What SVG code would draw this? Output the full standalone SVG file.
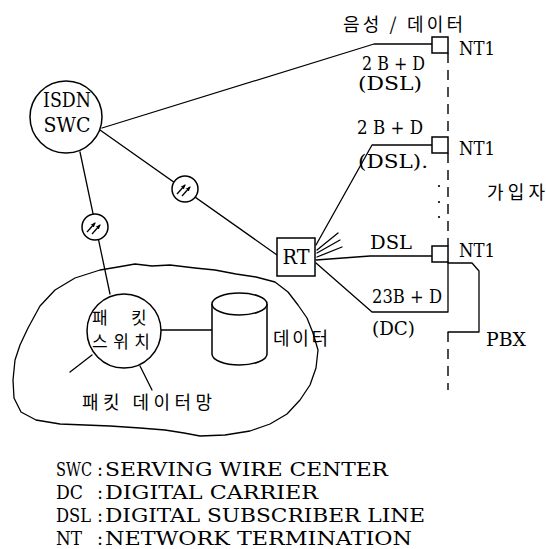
<svg xmlns="http://www.w3.org/2000/svg" width="546" height="549" viewBox="0 0 546 549">
<defs>
<style>
.ln{fill:none;stroke:#000;stroke-width:1.3;stroke-linejoin:round;stroke-linecap:round}
.nd{fill:#fff;stroke:#000;stroke-width:1.5}
.dash{fill:none;stroke:#000;stroke-width:1.4;stroke-dasharray:10 7}
.sf{font-family:"DejaVu Serif","Liberation Serif","Noto Serif",serif}
.kr{font-family:"Noto Sans CJK KR","Noto Sans",sans-serif}
</style>
<marker id="ah" viewBox="0 0 10 10" refX="8" refY="5" markerWidth="4" markerHeight="4" orient="auto">
<path d="M0,1 L10,5 L0,9 Z" fill="#000"/>
</marker>
<g id="arrows">
<line x1="-8" y1="5" x2="0" y2="-4" stroke="#000" stroke-width="1.3" marker-end="url(#ah)"/>
<line x1="-3" y1="7" x2="5" y2="-2" stroke="#000" stroke-width="1.3" marker-end="url(#ah)"/>
</g>
</defs>
<rect width="546" height="549" fill="#fff"/>

<g id="cloud">
<path class="ln" stroke-width="1.1" d="M20,345 L28,328 L40,306 L55,290 L75,278 L100,270 L118,267 L135,264 L152,266 L170,265 L195,268 L215,270 L236,274 L256,277 L275,282 L288,292 L298,305 L307,318 L313,333 L318,350 L316,368 L310,385 L300,400 L287,414 L270,424 L250,431 L225,435 L200,436 L184,433 L165,430 L140,428 L110,426 L85,425 L60,424 L36,420 L21,412 L14,398 L13,380 L15,360 Z"/>
</g>

<g id="connectors">
<path class="ln" d="M102,128 L374,44 L432,44"/>
<path class="ln" d="M100,130 L277,255"/>
<path class="ln" d="M80,152 L110,294"/>
<path class="ln" d="M316,245 L372,145 L432,145"/>
<path class="ln" d="M317,250 L338,233 M317,253 L340,240 M317,257 L342,247"/>
<path class="ln" d="M316,260 L370,256 L432,256"/>
<path class="ln" d="M316,263 L372,312 L448,312 L448,262"/>
<path class="ln" d="M448,263 L472,263 L479,271 L479,332 L448,332"/>
<path class="ln" d="M161,330 L212,330"/>
<path class="ln" d="M92,355 L70,372 M140,366 L152,390"/>
<path class="dash" d="M448,53 L448,137 M448,153 L448,246 M448,332 L448,390"/>
<g fill="#000">
<circle cx="439" cy="186" r="1.1"/>
<circle cx="439" cy="202" r="1.1"/>
<circle cx="439" cy="217" r="1.1"/>
</g>
</g>

<g id="isdn-swc">
<circle class="nd" cx="66" cy="117" r="36"/>
<text class="sf" x="67" y="107" font-size="20" text-anchor="middle" textLength="48" lengthAdjust="spacingAndGlyphs">ISDN</text>
<text class="sf" x="67" y="132" font-size="20" text-anchor="middle" textLength="47" lengthAdjust="spacingAndGlyphs">SWC</text>
</g>

<g id="mux1">
<circle class="nd" cx="185" cy="189" r="13"/>
<use href="#arrows" x="185" y="189"/>
</g>
<g id="mux2">
<circle class="nd" cx="95" cy="227" r="13"/>
<use href="#arrows" x="95" y="227"/>
</g>

<g id="rt">
<rect class="nd" x="277" y="238" width="38" height="38"/>
<text class="sf" x="296" y="264" font-size="20" text-anchor="middle" textLength="27" lengthAdjust="spacingAndGlyphs">RT</text>
</g>

<g id="nt1-a">
<rect class="nd" x="432" y="37" width="16" height="16"/>
<text class="sf" x="459" y="55" font-size="19" textLength="36" lengthAdjust="spacingAndGlyphs">NT1</text>
</g>
<g id="nt1-b">
<rect class="nd" x="432" y="137" width="16" height="16"/>
<text class="sf" x="459" y="155" font-size="19" textLength="36" lengthAdjust="spacingAndGlyphs">NT1</text>
</g>
<g id="nt1-c">
<rect class="nd" x="432" y="246" width="16" height="16"/>
<text class="sf" x="459" y="257" font-size="19" textLength="36" lengthAdjust="spacingAndGlyphs">NT1</text>
</g>

<g id="packet-switch">
<circle class="nd" cx="124" cy="331" r="37"/>
<text class="kr" x="92" y="324" font-size="17">패</text>
<text class="kr" x="131" y="324" font-size="17">킷</text>
<text class="kr" x="92" y="348" font-size="17" textLength="58" lengthAdjust="spacing">스위치</text>
</g>

<g id="data-store">
<path class="nd" d="M212,304 L212,354 A27.5,11 0 0 0 267,354 L267,304"/>
<ellipse class="nd" cx="239.5" cy="304" rx="27.5" ry="11"/>
<text class="kr" x="273" y="345" font-size="18" textLength="55" lengthAdjust="spacing">데이터</text>
</g>

<g id="labels">
<g class="kr" font-size="18">
<text x="343" y="31" textLength="120" lengthAdjust="spacing">음성 / 데이터</text>
<text x="487" y="199" textLength="58" lengthAdjust="spacing">가입자</text>
<text x="82" y="409" textLength="130" lengthAdjust="spacing">패킷 데이터망</text>
</g>
<g class="sf" font-size="18">
<text x="362" y="70" textLength="63" lengthAdjust="spacingAndGlyphs">2 B + D</text>
<text x="358" y="90" textLength="64" lengthAdjust="spacingAndGlyphs">(DSL)</text>
<text x="357" y="134" textLength="66" lengthAdjust="spacingAndGlyphs">2 B + D</text>
<text x="358" y="168" textLength="70" lengthAdjust="spacingAndGlyphs">(DSL).</text>
<text x="370" y="249" textLength="42" lengthAdjust="spacingAndGlyphs">DSL</text>
<text x="372" y="303" textLength="70" lengthAdjust="spacingAndGlyphs">23B + D</text>
<text x="372" y="335" textLength="43" lengthAdjust="spacingAndGlyphs">(DC)</text>
<text x="486" y="346" textLength="40" lengthAdjust="spacingAndGlyphs">PBX</text>
</g>
</g>

<g id="legend" class="sf" font-size="18">
<text x="56" y="476" textLength="36" lengthAdjust="spacingAndGlyphs">SWC</text><text x="97" y="476">:</text>
<text x="105" y="476" textLength="283" lengthAdjust="spacingAndGlyphs">SERVING WIRE CENTER</text>
<text x="56" y="499" textLength="27" lengthAdjust="spacingAndGlyphs">DC</text><text x="97" y="499">:</text>
<text x="105" y="499" textLength="213" lengthAdjust="spacingAndGlyphs">DIGITAL CARRIER</text>
<text x="56" y="522" textLength="35" lengthAdjust="spacingAndGlyphs">DSL</text><text x="97" y="522">:</text>
<text x="105" y="522" textLength="320" lengthAdjust="spacingAndGlyphs">DIGITAL SUBSCRIBER LINE</text>
<text x="56" y="545" textLength="26" lengthAdjust="spacingAndGlyphs">NT</text><text x="97" y="545">:</text>
<text x="105" y="545" textLength="307" lengthAdjust="spacingAndGlyphs">NETWORK TERMINATION</text>
</g>
</svg>
